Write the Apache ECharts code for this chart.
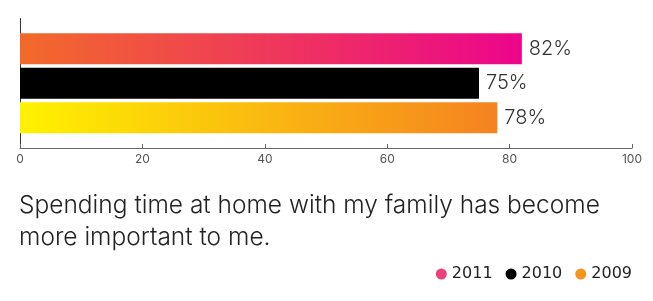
<!DOCTYPE html>
<html>
<head>
<meta charset="utf-8">
<script src="https://cdn.jsdelivr.net/npm/echarts@6/dist/echarts.min.js"></script>
<style>html,body{margin:0;padding:0;background:#fff;}#c{width:653px;height:301px;}</style>
</head>
<body>
<div id="c"></div>
<script>
var categories = ['Spending time at home with my family has become more important to me.'];
var years = ['2011', '2010', '2009'];
var values2011 = [82];
var values2010 = [75];
var values2009 = [78];
var xTicks = [0, 20, 40, 60, 80, 100];
var titleText = 'Spending time at home with my family has become\nmore important to me.';

var chart = echarts.init(document.getElementById('c'));
function grad(a, b) {
  return new echarts.graphic.LinearGradient(0, 0, 1, 0, [{offset: 0, color: a}, {offset: 1, color: b}]);
}
var labelCfg = {show: true, position: 'right', distance: 7, formatter: '{c}%', color: '#333', fontSize: 20, fontFamily: 'Inter', fontWeight: 300};
chart.setOption({
  animation: false,
  title: {
    text: titleText, left: 14, top: 185,
    textStyle: {fontFamily: 'Inter', fontWeight: 300, fontSize: 24.5, color: '#222', lineHeight: 32}
  },
  legend: {
    right: 16, top: 261, itemWidth: 11, itemHeight: 11, itemGap: 13, icon: 'circle',
    textStyle: {fontFamily: 'DejaVu Sans', fontSize: 16, color: '#222', padding: [0, 0, 0, 0]},
    data: [
      {name: '2011', itemStyle: {color: '#ec4079'}},
      {name: '2010', itemStyle: {color: '#000'}},
      {name: '2009', itemStyle: {color: '#f7941d'}}
    ]
  },
  grid: {left: 20, right: 21, top: 18.5, bottom: 153},
  xAxis: {
    type: 'value', min: 0, max: 100, interval: 20,
    axisLine: {show: true, lineStyle: {color: '#666', width: 1}},
    axisTick: {show: true, inside: true, length: 4, lineStyle: {color: '#666'}},
    splitLine: {show: false},
    axisLabel: {color: '#555', fontSize: 12, margin: 5, fontFamily: 'Inter',
      formatter: function (v) { return xTicks.indexOf(v) >= 0 ? String(v) : ''; }}
  },
  yAxis: {
    type: 'category', data: categories,
    axisLine: {show: true, lineStyle: {color: '#333', width: 1}},
    axisTick: {show: false}, axisLabel: {show: false}
  },
  series: [
    {name: years[0], type: 'bar', data: values2011, barWidth: 31, barGap: '11%',
      itemStyle: {color: grad('#f26a2a', '#ec058c')}, label: labelCfg},
    {name: years[1], type: 'bar', data: values2010, barWidth: 31, barGap: '11%',
      itemStyle: {color: '#000'}, label: labelCfg},
    {name: years[2], type: 'bar', data: values2009, barWidth: 31, barGap: '11%',
      itemStyle: {color: grad('#fff200', '#f58220')}, label: labelCfg}
  ]
});
</script>
</body>
</html>
